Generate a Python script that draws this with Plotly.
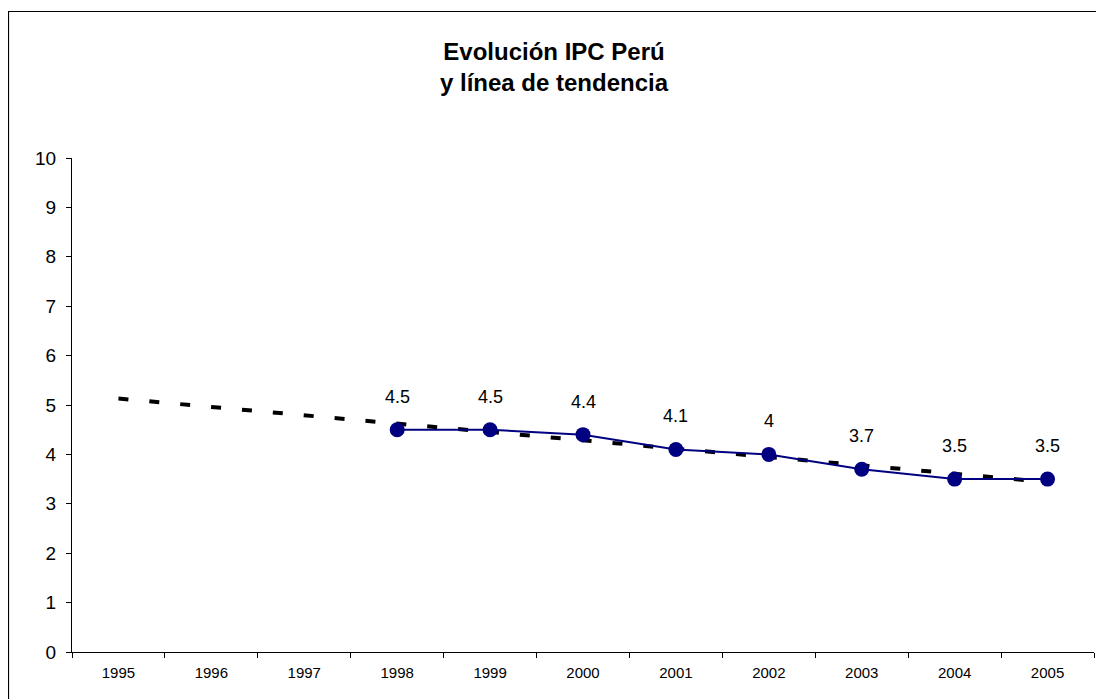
import plotly.graph_objects as go

years = ["1995", "1996", "1997", "1998", "1999", "2000", "2001", "2002", "2003", "2004", "2005"]
ipc_years = ["1998", "1999", "2000", "2001", "2002", "2003", "2004", "2005"]
ipc_values = [4.5, 4.5, 4.4, 4.1, 4.0, 3.7, 3.5, 3.5]
ipc_labels = ["4.5", "4.5", "4.4", "4.1", "4", "3.7", "3.5", "3.5"]
trend_years = ["1995", "2005"]
trend_values = [5.13, 3.44]
y_ticks = [0, 1, 2, 3, 4, 5, 6, 7, 8, 9, 10]

# page has an 8px body margin; figure coords = page coords - 8
W, H = 1104, 699
ml, mt = 64, 150
mr, mb = 18, 55
pw, ph = W - ml - mr, H - mt - mb

fig = go.Figure()
fig.add_trace(go.Scatter(
    x=trend_years, y=trend_values, mode="lines",
    line=dict(color="black", width=4, dash="10px,21px"),
    hoverinfo="skip", showlegend=False,
))
fig.add_trace(go.Scatter(
    x=ipc_years, y=ipc_values, mode="lines+markers",
    line=dict(color="#000080", width=2),
    marker=dict(color="#000080", size=15, symbol="circle"),
    showlegend=False,
))
for xv, yv, lab in zip(ipc_years, ipc_values, ipc_labels):
    fig.add_annotation(x=years.index(xv), y=yv, text=lab, showarrow=False, yshift=33,
                       font=dict(family="Liberation Sans, Arial", size=18, color="black"))

# outer frame (page x=8, y=11 -> figure x=0.5, y=3.5), extends beyond right/bottom
fig.add_shape(type="rect", xref="paper", yref="paper",
              x0=(0.5 - ml) / pw, x1=(W + 20 - ml) / pw,
              y0=(mt + ph - (H + 20)) / ph, y1=(mt + ph - 3.5) / ph,
              line=dict(color="black", width=1.2), layer="below")

fig.update_layout(
    width=W, height=H,
    margin=dict(l=ml, r=mr, t=mt, b=mb),
    paper_bgcolor="white", plot_bgcolor="white",
    font=dict(family="Liberation Sans, Arial", color="black"),
    title=dict(text="<b>Evolución IPC Perú<br>y línea de tendencia</b>",
               x=546 / W, xref="container", xanchor="center",
               y=1 - 52 / H, yref="container", yanchor="middle",
               font=dict(size=24, color="black")),
    xaxis=dict(type="category", categoryorder="array", categoryarray=years,
               tickvals=years, range=[-0.5, 10.5], tickson="boundaries",
               showgrid=False, zeroline=False, showline=True, linecolor="black", linewidth=1,
               ticks="outside", ticklen=5, tickcolor="black",
               tickfont=dict(size=15, color="black"), ticklabelstandoff=7),
    yaxis=dict(range=[0, 10], tickvals=y_ticks, showgrid=False, zeroline=False,
               showline=True, linecolor="black", linewidth=1,
               ticks="outside", ticklen=5, tickcolor="black",
               tickfont=dict(size=19, color="black"), ticklabelstandoff=6),
)

fig.write_html("out.html")
